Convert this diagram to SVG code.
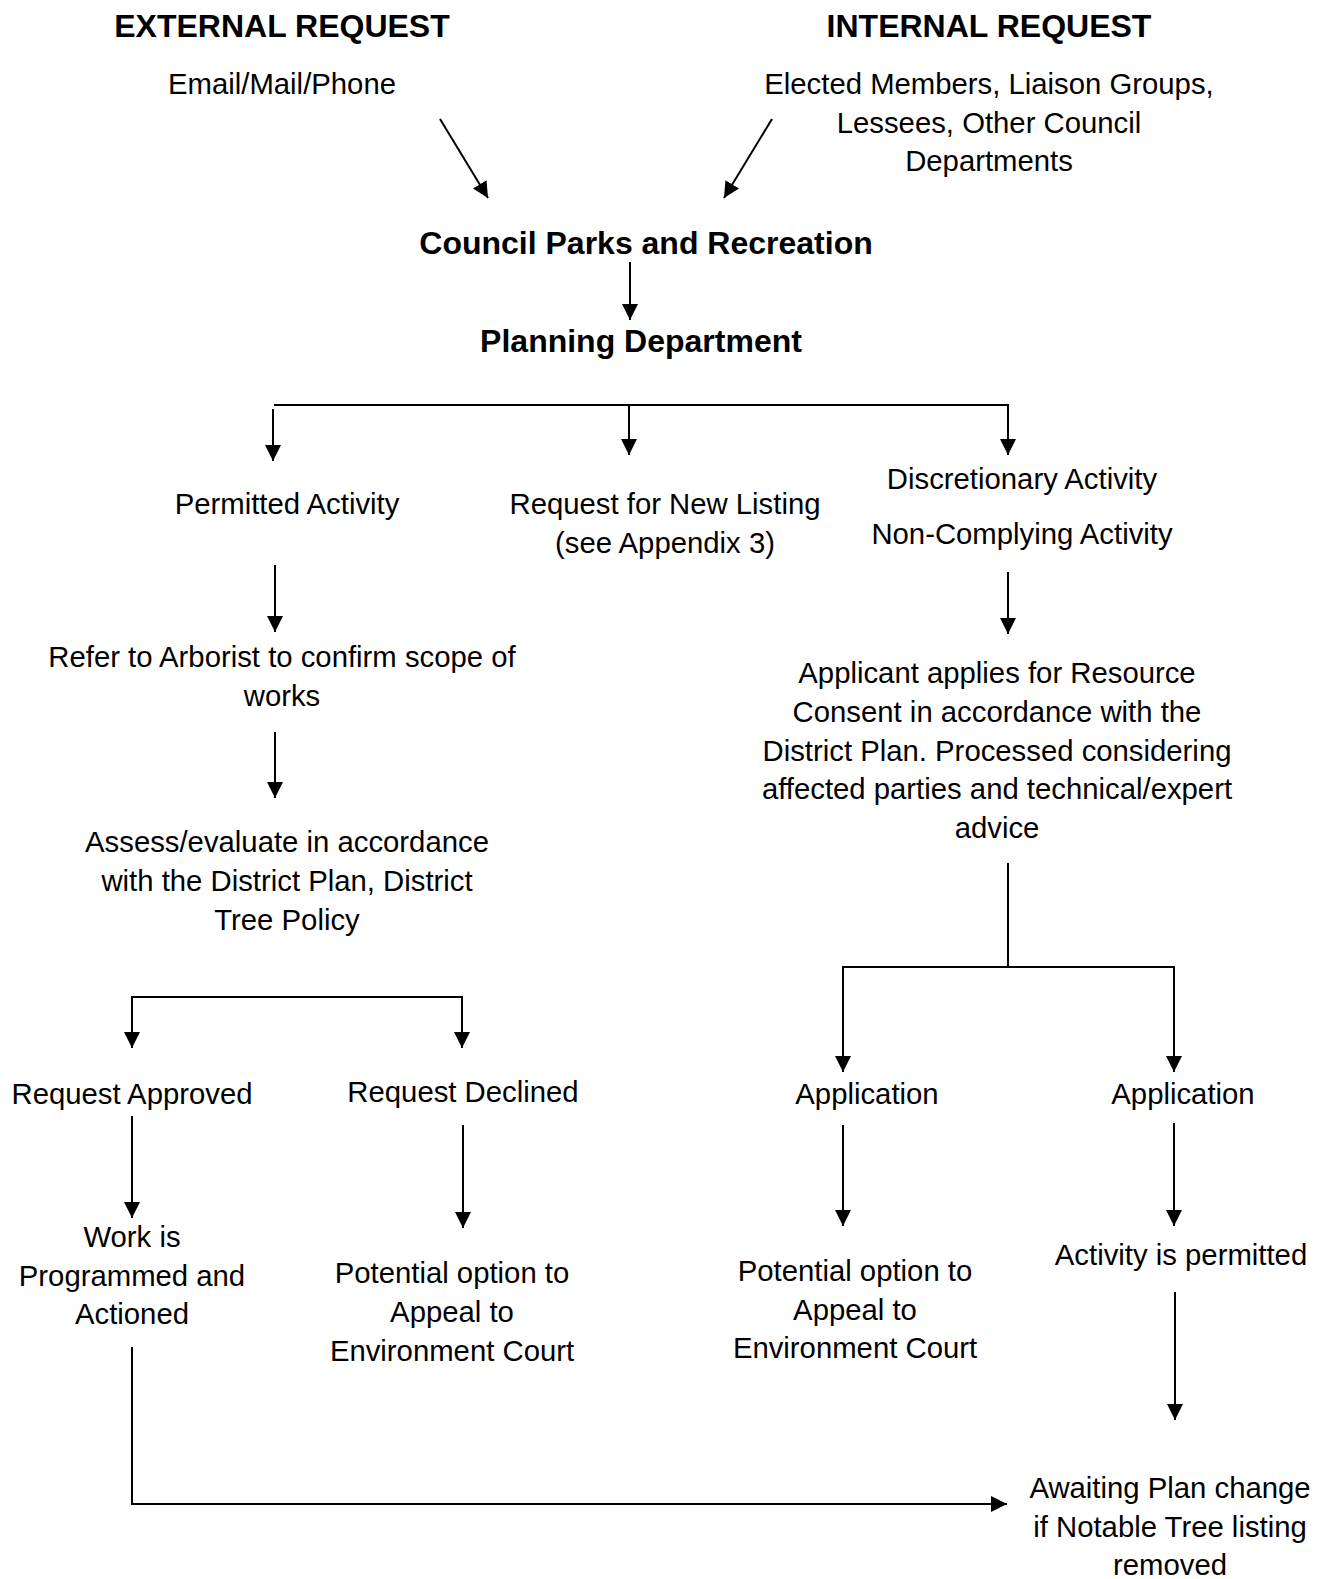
<svg xmlns="http://www.w3.org/2000/svg" width="1327" height="1579" viewBox="0 0 1327 1579">
<defs>
<style>
text{font-family:"Liberation Sans",Arial,sans-serif;fill:#000;text-anchor:middle}
.t{font-size:29.3px}
.b{font-size:32px;font-weight:bold}
.c line,.c path{stroke:#000;stroke-width:2;fill:none}
.arr{marker-end:url(#ah)}
</style>
<marker id="ah" markerUnits="userSpaceOnUse" markerWidth="16" markerHeight="16" refX="15" refY="7.5" orient="auto" viewBox="0 0 15 15">
<path d="M0,0 L15,7.5 L0,15 z" fill="#000"/>
</marker>
</defs>
<rect width="1327" height="1579" fill="#fff"/>

<g id="external"><text class="b" x="282" y="37">EXTERNAL REQUEST</text></g>
<g id="internal"><text class="b" x="989" y="37">INTERNAL REQUEST</text></g>
<g id="email"><text class="t" x="282" y="94">Email/Mail/Phone</text></g>
<g id="elected"><text class="t" x="989" y="94">Elected Members, Liaison Groups,</text><text class="t" x="989" y="132.7">Lessees, Other Council</text><text class="t" x="989" y="171.4">Departments</text></g>
<g id="council"><text class="b" x="646" y="254">Council Parks and Recreation</text></g>
<g id="planning"><text class="b" x="641" y="352">Planning Department</text></g>
<g id="permitted"><text class="t" x="287" y="514">Permitted Activity</text></g>
<g id="newlisting"><text class="t" x="665" y="514">Request for New Listing</text><text class="t" x="665" y="553">(see Appendix 3)</text></g>
<g id="discretionary"><text class="t" x="1022" y="489">Discretionary Activity</text><text class="t" x="1022" y="544">Non-Complying Activity</text></g>
<g id="arborist"><text class="t" x="282" y="667">Refer to Arborist to confirm scope of</text><text class="t" x="282" y="706">works</text></g>
<g id="assess"><text class="t" x="287" y="852">Assess/evaluate in accordance</text><text class="t" x="287" y="891">with the District Plan, District</text><text class="t" x="287" y="930">Tree Policy</text></g>
<g id="applicant"><text class="t" x="997" y="683">Applicant applies for Resource</text><text class="t" x="997" y="722">Consent in accordance with the</text><text class="t" x="997" y="761">District Plan. Processed considering</text><text class="t" x="997" y="799">affected parties and technical/expert</text><text class="t" x="997" y="838">advice</text></g>
<g id="approved"><text class="t" x="132" y="1104">Request Approved</text></g>
<g id="declined"><text class="t" x="463" y="1102">Request Declined</text></g>
<g id="application1"><text class="t" x="867" y="1104">Application</text></g>
<g id="application2"><text class="t" x="1183" y="1104">Application</text></g>
<g id="work"><text class="t" x="132" y="1247">Work is</text><text class="t" x="132" y="1286">Programmed and</text><text class="t" x="132" y="1324">Actioned</text></g>
<g id="appeal1"><text class="t" x="452" y="1283">Potential option to</text><text class="t" x="452" y="1322">Appeal to</text><text class="t" x="452" y="1361">Environment Court</text></g>
<g id="appeal2"><text class="t" x="855" y="1281">Potential option to</text><text class="t" x="855" y="1320">Appeal to</text><text class="t" x="855" y="1358">Environment Court</text></g>
<g id="activitypermitted"><text class="t" x="1181" y="1265">Activity is permitted</text></g>
<g id="awaiting"><text class="t" x="1170" y="1498">Awaiting Plan change</text><text class="t" x="1170" y="1537">if Notable Tree listing</text><text class="t" x="1170" y="1575">removed</text></g>

<g id="connectors" class="c">
<line class="arr" x1="440" y1="119" x2="488" y2="198"/>
<line class="arr" x1="772" y1="119" x2="724" y2="198"/>
<line class="arr" x1="630" y1="262" x2="630" y2="320"/>
<line x1="274" y1="405" x2="1009" y2="405"/>
<line class="arr" x1="273" y1="409" x2="273" y2="461"/>
<line class="arr" x1="629" y1="405" x2="629" y2="455"/>
<line class="arr" x1="1008" y1="405" x2="1008" y2="455"/>
<line class="arr" x1="275" y1="565" x2="275" y2="632"/>
<line class="arr" x1="1008" y1="572" x2="1008" y2="634"/>
<line class="arr" x1="275" y1="732" x2="275" y2="798"/>
<line x1="132" y1="997" x2="462" y2="997"/>
<line class="arr" x1="132" y1="996" x2="132" y2="1048"/>
<line class="arr" x1="462" y1="996" x2="462" y2="1048"/>
<line x1="1008" y1="863" x2="1008" y2="967"/>
<line x1="843" y1="967" x2="1174" y2="967"/>
<line class="arr" x1="843" y1="966" x2="843" y2="1072"/>
<line class="arr" x1="1174" y1="966" x2="1174" y2="1072"/>
<line class="arr" x1="132" y1="1116" x2="132" y2="1218"/>
<line class="arr" x1="463" y1="1125" x2="463" y2="1228"/>
<line class="arr" x1="843" y1="1125" x2="843" y2="1226"/>
<line class="arr" x1="1174" y1="1123" x2="1174" y2="1226"/>
<line class="arr" x1="1175" y1="1292" x2="1175" y2="1420"/>
<path class="arr" d="M132,1347 V1504 H1007"/>
</g>
</svg>
